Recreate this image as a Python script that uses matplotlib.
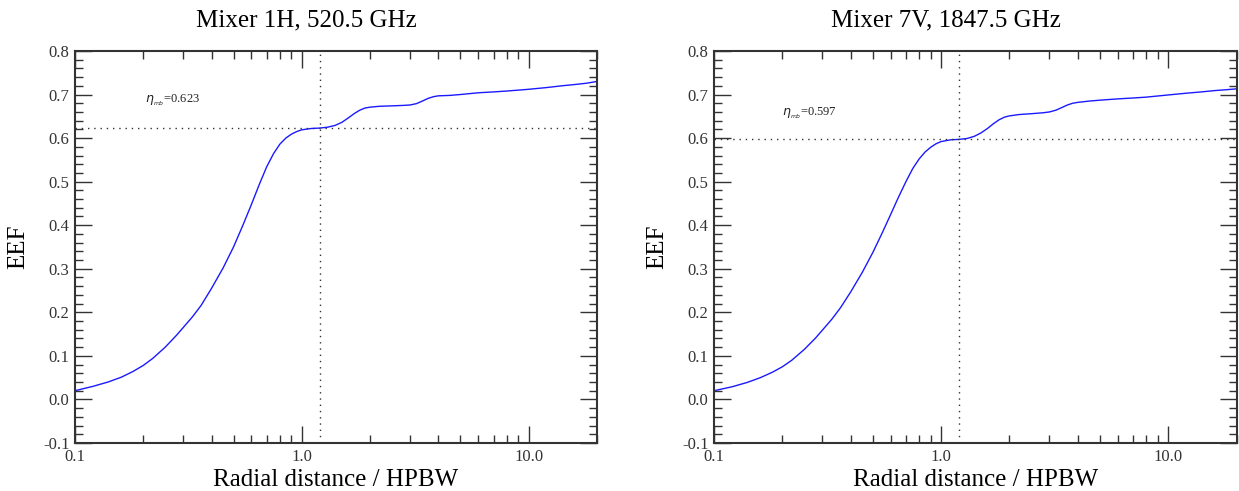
import matplotlib.pyplot as plt
import numpy as np
from matplotlib.ticker import FixedLocator, LogLocator, MultipleLocator, NullFormatter

plt.rcParams['font.family'] = ['Liberation Serif', 'DejaVu Serif']

# radial distance / HPBW (shared sampling for both mixers)
r = [0.1, 0.12, 0.14, 0.16, 0.18, 0.2, 0.22, 0.25, 0.28, 0.3, 0.33, 0.36, 0.4,
     0.45, 0.5, 0.55, 0.6, 0.65, 0.7, 0.75, 0.8, 0.85, 0.9, 0.95, 1.0, 1.1, 1.2,
     1.3, 1.4, 1.5, 1.6, 1.7, 1.8, 1.9, 2.0, 2.2, 2.5, 2.8, 3.0, 3.2, 3.4, 3.6,
     3.8, 4.0, 4.5, 5.0, 6.0, 7.0, 8.0, 10.0, 12.0, 14.0, 16.0, 18.0, 20.0]
eef_1h = [0.020, 0.030, 0.040, 0.051, 0.064, 0.078, 0.094, 0.120, 0.147, 0.165,
          0.190, 0.216, 0.255, 0.302, 0.350, 0.400, 0.448, 0.494, 0.534, 0.564,
          0.586, 0.600, 0.609, 0.615, 0.619, 0.622, 0.623, 0.625, 0.629, 0.636,
          0.646, 0.656, 0.664, 0.669, 0.671, 0.673, 0.674, 0.675, 0.676, 0.679,
          0.685, 0.691, 0.695, 0.697, 0.698, 0.700, 0.704, 0.706, 0.708, 0.712,
          0.716, 0.720, 0.723, 0.726, 0.730]
eef_7v = [0.020, 0.029, 0.039, 0.050, 0.062, 0.075, 0.090, 0.115, 0.141, 0.159,
          0.184, 0.210, 0.247, 0.292, 0.337, 0.382, 0.425, 0.465, 0.500, 0.530,
          0.552, 0.568, 0.579, 0.587, 0.592, 0.596, 0.597, 0.599, 0.604, 0.612,
          0.622, 0.633, 0.642, 0.648, 0.651, 0.654, 0.656, 0.658, 0.660, 0.664,
          0.670, 0.676, 0.680, 0.682, 0.685, 0.687, 0.690, 0.692, 0.694, 0.699,
          0.703, 0.706, 0.709, 0.711, 0.713]

titles = ['Mixer 1H, 520.5 GHz', 'Mixer 7V, 1847.5 GHz']
eta_mb = [0.623, 0.597]
r_mb = 1.2
text_pos = [(0.203, 0.686), (0.2, 0.658)]

fig = plt.figure(figsize=(12.39, 4.91), dpi=100)
ax1 = fig.add_axes([0.0605, 0.0978, 0.4213, 0.7984])
ax2 = fig.add_axes([0.5763, 0.0978, 0.4217, 0.7984])

edge = '#333333'
for ax, eef, title, eta, tp in zip([ax1, ax2], [eef_1h, eef_7v], titles, eta_mb, text_pos):
    ax.plot(r, eef, color='#1a1aff', lw=1.0)
    ax.axvline(r_mb, color='#333333', lw=1.0, ls=(0, (1, 3.5)))
    ax.axhline(eta, color='#333333', lw=1.0, ls=(0, (1, 3.5)))
    ax.text(tp[0], tp[1], r'$\eta_{_{mb}}$=%.3f' % eta, fontsize=9, color='#222222',
            va='center', ha='left')
    ax.set_xscale('log')
    ax.set_xlim(0.1, 20)
    ax.set_ylim(-0.1, 0.8)
    ax.xaxis.set_major_locator(FixedLocator([0.1, 1.0, 10.0]))
    ax.set_xticklabels(['0.1', '1.0', '10.0'])
    ax.xaxis.set_minor_locator(LogLocator(base=10, subs=np.arange(2, 10)))
    ax.xaxis.set_minor_formatter(NullFormatter())
    ax.yaxis.set_major_locator(MultipleLocator(0.1))
    ax.yaxis.set_minor_locator(MultipleLocator(0.02))
    ax.yaxis.set_major_formatter(plt.FuncFormatter(lambda v, p: '%.1f' % v if abs(v) > 1e-9 else '0.0'))
    ax.tick_params(which='both', direction='in', top=True, right=True, colors=edge,
                   labelsize=12, width=1.0, pad=4)
    ax.tick_params(which='major', length=12)
    ax.tick_params(axis='y', which='major', length=12)
    ax.tick_params(which='minor', length=6)
    for s in ax.spines.values():
        s.set_color(edge)
        s.set_linewidth(1.5)
    ax.set_title(title, fontsize=18, pad=18, x=0.443)
    ax.set_xlabel('Radial distance / HPBW', fontsize=18, labelpad=3)
    ax.set_ylabel('EEF', fontsize=18, labelpad=10)

fig.savefig('out.png', dpi=100)
